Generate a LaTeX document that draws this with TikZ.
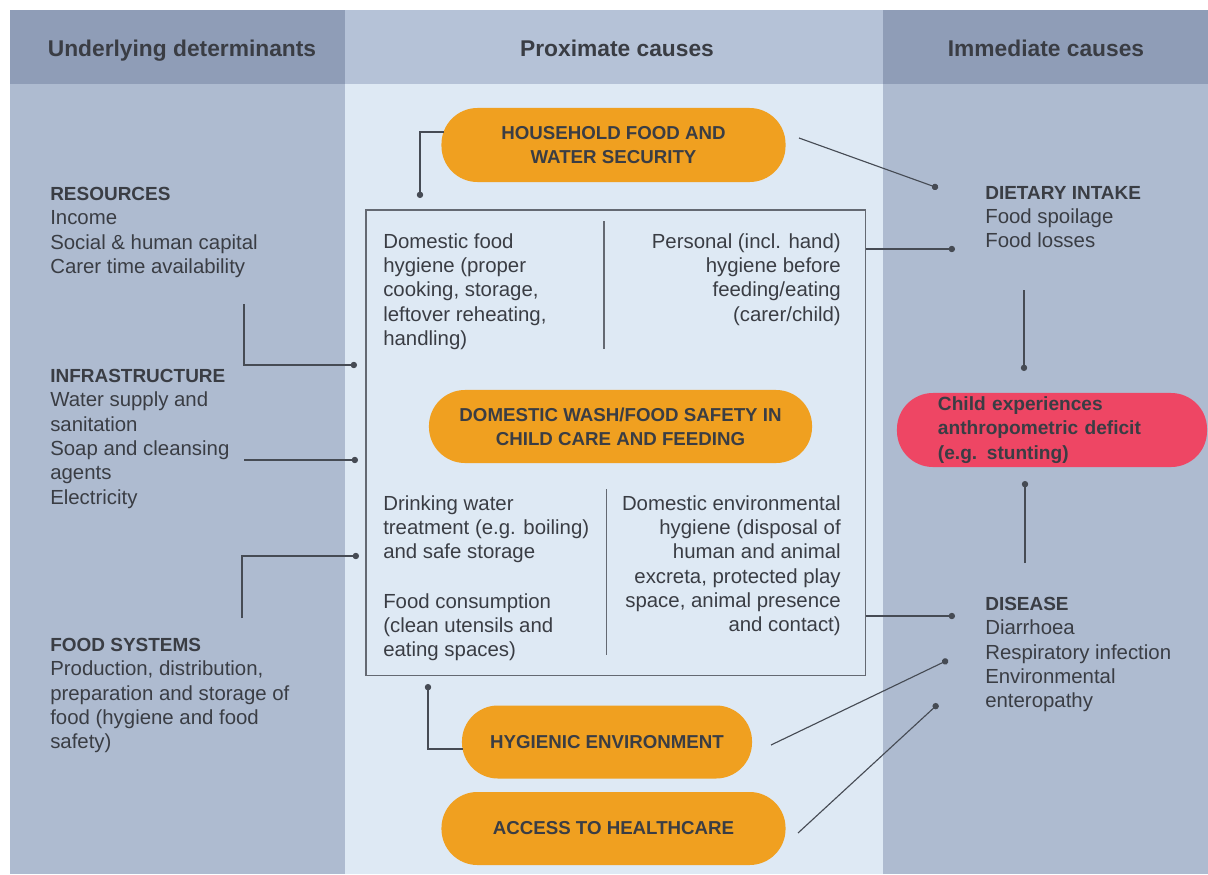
\documentclass[tikz,border=0pt]{standalone}
\usepackage{fontspec}
\setmainfont{Liberation Sans}
\usepackage{tikz}
\usetikzlibrary{arrows.meta,positioning}

\definecolor{hdrdark}{RGB}{143,157,183}
\definecolor{hdrlight}{RGB}{181,194,215}
\definecolor{sidebg}{RGB}{174,187,208}
\definecolor{midbg}{RGB}{222,233,244}
\definecolor{pillorange}{RGB}{240,160,32}
\definecolor{pillred}{RGB}{238,70,100}
\definecolor{inkgray}{RGB}{58,61,68}
\definecolor{linkgray}{RGB}{70,75,84}
\definecolor{boxgray}{RGB}{100,105,114}

\newcommand{\blockhead}[1]{{\fontsize{13.5}{17.3}\selectfont\bfseries #1}}

\begin{document}
\begin{tikzpicture}[x=0.025cm, y=-0.025cm,
    link/.style={linkgray, line width=0.8pt, -{Circle[length=4.5pt]}},
    plain/.style={boxgray, line width=0.8pt},
    colhead/.style={anchor=base, font=\fontsize{16.2}{19}\selectfont\bfseries, text=inkgray},
    txt/.style={font=\fontsize{14.5}{17.3}\selectfont, text=inkgray, inner sep=0pt},
    pill/.style={rectangle, rounded corners=0.9cm, fill=pillorange, inner sep=0pt,
        font=\fontsize{13.3}{17.3}\selectfont\bfseries, text=inkgray, align=center}]

\useasboundingbox (0,0) rectangle (1208,874);
% columns
\fill[white] (0,0) rectangle (1208,874);
\fill[hdrdark] (10,10) rectangle (345,84);
\fill[sidebg] (10,84) rectangle (345,874);
\fill[hdrlight] (345,10) rectangle (883,84);
\fill[midbg] (345,84) rectangle (883,874);
\fill[hdrdark] (883,10) rectangle (1208,84);
\fill[sidebg] (883,84) rectangle (1208,874);

\path
    (244,304) coordinate (res-src)
    (357,365) coordinate (res-dot)
    (244,460) coordinate (infra-src)
    (358,460) coordinate (infra-dot)
    (242,618) coordinate (food-src)
    (359,556) coordinate (food-dot)
    (444,132) coordinate (hh-src)
    (420,198) coordinate (hh-dot)
    (799,138) coordinate (hh-out)
    (938,188) coordinate (diet-a)
    (955,249) coordinate (diet-b)
    (1024,290) coordinate (diet-src)
    (1024,371) coordinate (child-top)
    (1025,563) coordinate (dis-src)
    (1025,481) coordinate (child-bot)
    (955,616) coordinate (dis-a)
    (948,660) coordinate (dis-b)
    (938,704) coordinate (dis-c)
    (463,749) coordinate (hyg-src)
    (428,684) coordinate (hyg-dot)
    (771,745) coordinate (hyg-out)
    (798,833) coordinate (acc-out)
    ;

\node[colhead] (h-under) at (182,57) {Underlying determinants};
\node[colhead] (h-prox) at (617,57) {Proximate causes};
\node[colhead] (h-immed) at (1046,57) {Immediate causes};

% central box
\node[draw=boxgray, line width=0.8pt, minimum width=12.475cm, minimum height=11.625cm, inner sep=0pt] (core) at (615.5,442.5) {};
\draw[plain] (604,221) -- (604,349);
\draw[plain] (606.5,489) -- (606.5,655);

\node[txt, anchor=north west, align=left] (foodhyg) at (383,233)
    {Domestic food\\hygiene (proper\\cooking, storage,\\leftover reheating,\\handling)};
\node[txt, anchor=north east, align=right] (personal) at (841,233)
    {Personal (incl. hand)\\hygiene before\\feeding/eating\\(carer/child)};
\node[txt, anchor=north west, align=left] (drinking) at (383,495)
    {Drinking water\\treatment (e.g. boiling)\\and safe storage};
\node[txt, anchor=north west, align=left] (consume) at (383,593)
    {Food consumption\\(clean utensils and\\eating spaces)};
\node[txt, anchor=north east, align=right] (envhyg) at (841,495)
    {Domestic environmental\\hygiene (disposal of\\human and animal\\excreta, protected play\\space, animal presence\\and contact)};

% left column
\node[txt, anchor=north west, align=left] (res) at (50,187)
    {\blockhead{RESOURCES}\\Income\\Social \& human capital\\Carer time availability};
\node[txt, anchor=north west, align=left] (infra) at (50,369)
    {\blockhead{INFRASTRUCTURE}\\Water supply and\\sanitation\\Soap and cleansing\\agents\\Electricity};
\node[txt, anchor=north west, align=left] (foodsys) at (50,638)
    {\blockhead{FOOD SYSTEMS}\\Production, distribution,\\preparation and storage of\\food (hygiene and food\\safety)};

% right column
\node[txt, anchor=north west, align=left] (diet) at (985,186)
    {\blockhead{DIETARY INTAKE}\\Food spoilage\\Food losses};
\node[txt, anchor=north west, align=left] (disease) at (985,597)
    {\blockhead{DISEASE}\\Diarrhoea\\Respiratory infection\\Environmental\\enteropathy};

% pills
\node[pill, minimum width=8.6cm, minimum height=1.85cm] (hh) at (613.5,145)
    {HOUSEHOLD FOOD AND\\WATER SECURITY};
\node[pill, minimum width=9.575cm, minimum height=1.825cm] (wash) at (620.5,426.5)
    {DOMESTIC WASH/FOOD SAFETY IN\\CHILD CARE AND FEEDING};
\node[pill, minimum width=7.25cm, minimum height=1.825cm] (hyg) at (607,742)
    {HYGIENIC ENVIRONMENT};
\node[pill, minimum width=8.6cm, minimum height=1.825cm] (acc) at (613.5,828.5)
    {ACCESS TO HEALTHCARE};
\node[pill, fill=pillred, minimum width=7.75cm, minimum height=1.85cm, text width=5.7cm, align=left,
    font=\fontsize{13.6}{17.3}\selectfont\bfseries] (child) at (1052,430)
    {Child experiences\\anthropometric deficit\\(e.g. stunting)};

% connectors
\draw[link] (res-src) |- (res-dot);
\draw[link] (infra-src) -- (infra-dot);
\draw[link] (food-src) |- (food-dot);
\draw[link] (hh-src) -| (hh-dot);
\draw[link] (hh-out) -- (diet-a);
\draw[link] (core.east |- diet-b) -- (diet-b);
\draw[link] (core.east |- dis-a) -- (dis-a);
\draw[link] (diet-src) -- (child-top);
\draw[link] (dis-src) -- (child-bot);
\draw[link] (hyg-src) -| (hyg-dot);
\draw[link] (hyg-out) -- (dis-b);
\draw[link] (acc-out) -- (dis-c);
\end{tikzpicture}
\end{document}
